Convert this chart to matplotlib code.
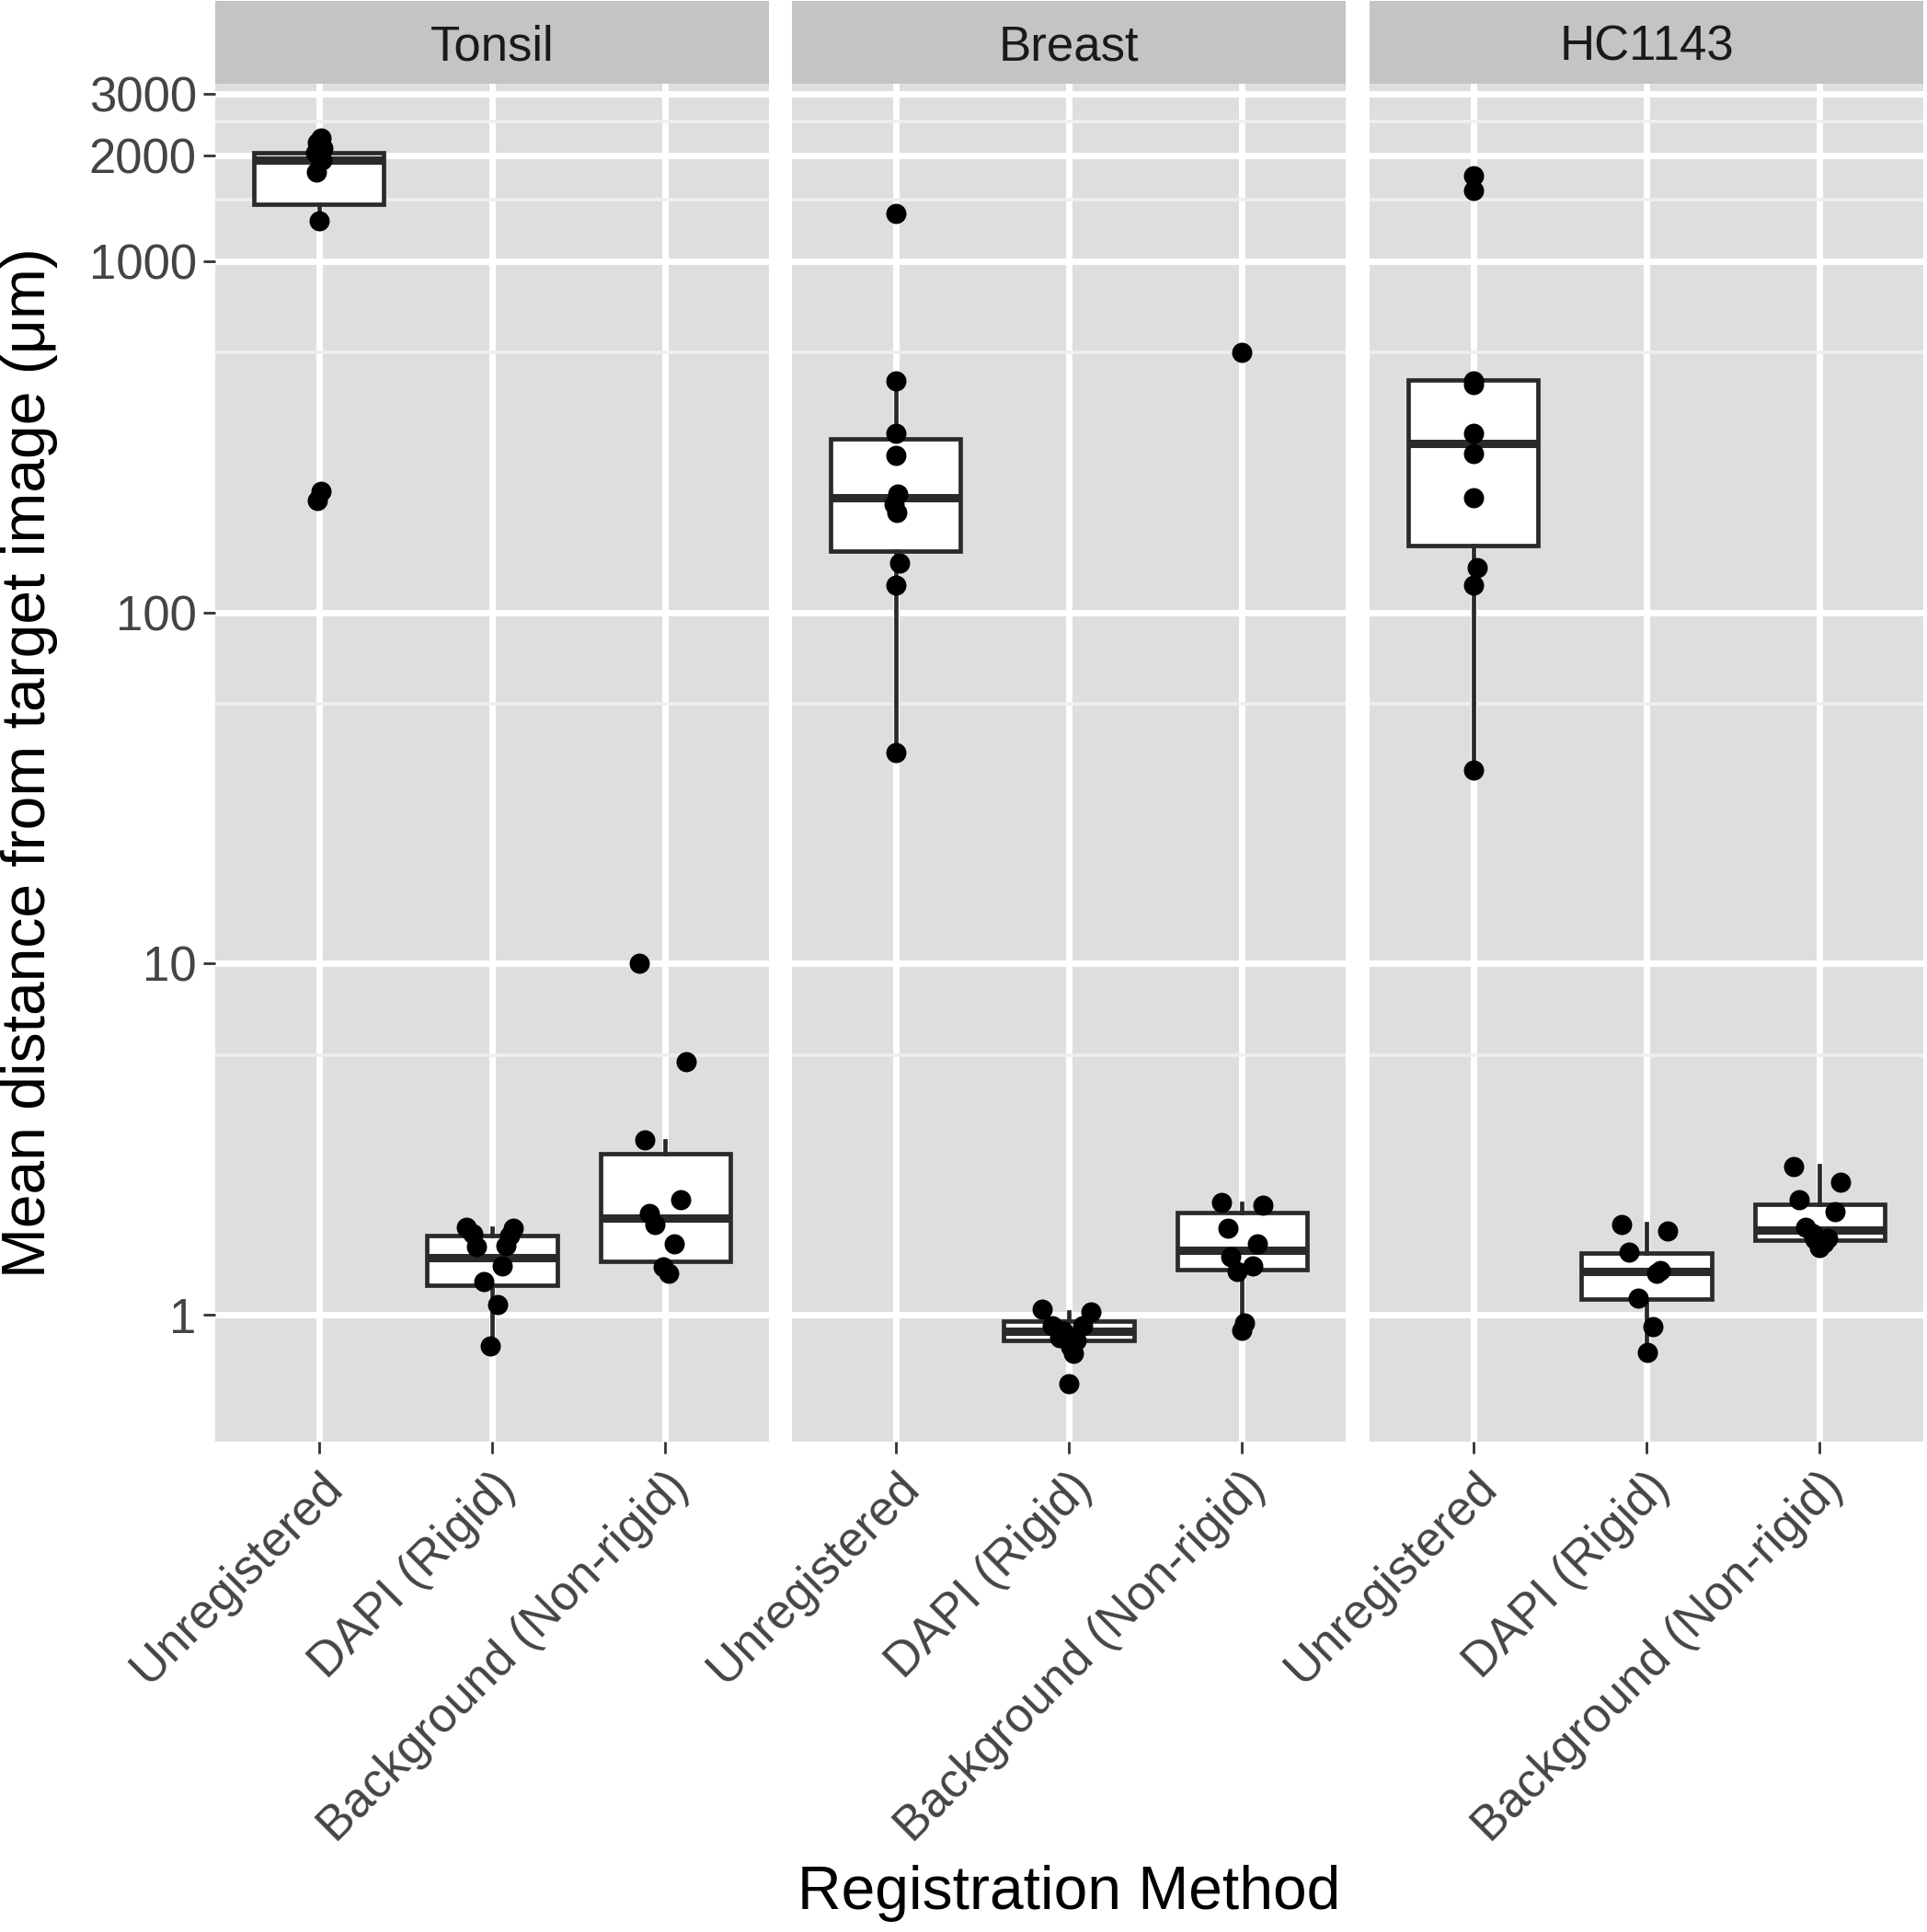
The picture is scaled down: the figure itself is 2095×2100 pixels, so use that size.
import matplotlib
matplotlib.use("Agg")
import matplotlib.pyplot as plt
from matplotlib.ticker import FixedLocator, NullFormatter, FixedFormatter, NullLocator

plt.rcParams['font.family'] = ['Liberation Sans', 'DejaVu Sans']

# ---------------- data ----------------
tissues = ["Tonsil", "Breast", "HC1143"]
methods = ["Unregistered", "DAPI (Rigid)", "Background (Non-rigid)"]
y_breaks = [1, 10, 100, 1000, 2000, 3000]
y_labels = ["1", "10", "100", "1000", "2000", "3000"]
y_minor = [5.5, 55, 550, 1500, 2500]

# points (values in um) and horizontal jitter offsets (category units)
tonsil_unreg = [2250, 2180, 2100, 2040, 1990, 1940, 1800, 1307, 222, 209]
tonsil_unreg_jit = [0.01, -0.01, 0.02, -0.02, 0.0, 0.015, -0.015, 0.0, 0.01, -0.01]
tonsil_dapi = [1.775, 1.76, 1.70, 1.68, 1.56, 1.57, 1.38, 1.24, 1.07, 0.817]
tonsil_dapi_jit = [-0.15, 0.12, -0.11, 0.10, -0.09, 0.08, 0.06, -0.05, 0.03, -0.01]
tonsil_bg = [10.0, 5.27, 3.15, 2.13, 1.945, 1.81, 1.59, 1.366, 1.31]
tonsil_bg_jit = [-0.15, 0.12, -0.12, 0.09, -0.09, -0.06, 0.05, -0.01, 0.02]

breast_unreg = [1368, 456, 325, 281, 217, 203, 193, 138, 120, 40]
breast_unreg_jit = [0.0, 0.0, 0.0, 0.0, 0.01, -0.01, 0.005, 0.02, 0.0, 0.0]
breast_dapi = [1.04, 1.02, 0.932, 0.932, 0.90, 0.86, 0.843, 0.81, 0.778, 0.636]
breast_dapi_jit = [-0.155, 0.13, -0.095, 0.08, -0.03, -0.055, 0.045, 0.01, 0.025, 0.0]
breast_bg = [551, 2.09, 2.05, 1.76, 1.59, 1.466, 1.38, 1.325, 0.95, 0.904]
breast_bg_jit = [0.0, -0.12, 0.12, -0.08, 0.09, -0.065, 0.065, -0.025, 0.015, 0.0]

hc_unreg = [1755, 1596, 457, 447, 325, 284, 213, 134, 120, 35.7]
hc_unreg_jit = [0.0, 0.0, 0.0, 0.0, 0.0, 0.0, 0.0, 0.02, 0.0, 0.0]
hc_dapi = [1.81, 1.73, 1.51, 1.34, 1.31, 1.117, 0.923, 0.78]
hc_dapi_jit = [-0.145, 0.12, -0.10, 0.08, 0.06, -0.05, 0.035, 0.005]
hc_bg = [2.65, 2.39, 2.13, 1.963, 1.776, 1.70, 1.655, 1.637, 1.60, 1.557]
hc_bg_jit = [-0.15, 0.12, -0.115, 0.09, -0.08, -0.04, 0.045, -0.025, 0.025, 0.0]

# box statistics: (whisker low, Q1, median, Q3, whisker high)
tonsil_boxes = [(1307, 1459, 1948, 2045, 2250), (0.817, 1.21, 1.451, 1.678, 1.76), (1.31, 1.42, 1.887, 2.88, 3.12)]
breast_boxes = [(40, 150, 213, 312, 456), (0.778, 0.843, 0.899, 0.96, 1.02), (0.904, 1.345, 1.526, 1.956, 2.07)]
hc_boxes = [(35.7, 155, 304, 460, 460), (0.78, 1.106, 1.326, 1.496, 1.82), (1.557, 1.63, 1.74, 2.065, 2.66)]

points = {
    "Tonsil": [(tonsil_unreg, tonsil_unreg_jit), (tonsil_dapi, tonsil_dapi_jit), (tonsil_bg, tonsil_bg_jit)],
    "Breast": [(breast_unreg, breast_unreg_jit), (breast_dapi, breast_dapi_jit), (breast_bg, breast_bg_jit)],
    "HC1143": [(hc_unreg, hc_unreg_jit), (hc_dapi, hc_dapi_jit), (hc_bg, hc_bg_jit)],
}
boxes = {"Tonsil": tonsil_boxes, "Breast": breast_boxes, "HC1143": hc_boxes}

# ---------------- layout ----------------
W, H = 2095, 2100
fig = plt.figure(figsize=(W / 100, H / 100), dpi=100)
fig.patch.set_facecolor("white")

panel_left = [234, 861, 1489]
panel_w = 602
panel_top = 91
panel_bottom = 1567
strip_top = 1

panel_bg = "#DEDEDE"
strip_bg = "#C4C4C4"
tick_col = "#444444"

for i, tissue in enumerate(tissues):
    l = panel_left[i] / W
    b = 1 - panel_bottom / H
    w = panel_w / W
    h = (panel_bottom - panel_top) / H
    ax = fig.add_axes([l, b, w, h])
    ax.set_facecolor(panel_bg)
    ax.set_yscale("log")
    ax.set_ylim(0.435, 3209)
    ax.set_xlim(-0.6, 2.6)
    for s in ax.spines.values():
        s.set_visible(False)
    ax.set_axisbelow(True)

    # y grid / ticks
    ax.yaxis.set_major_locator(FixedLocator(y_breaks))
    ax.yaxis.set_major_formatter(FixedFormatter(y_labels))
    ax.yaxis.set_minor_locator(FixedLocator(y_minor))
    ax.yaxis.set_minor_formatter(NullFormatter())
    ax.grid(which="major", axis="both", color="white", lw=5.0)
    ax.grid(which="minor", axis="y", color="#EFEFEF", lw=2.6)
    ax.tick_params(axis="y", which="minor", length=0)
    ax.xaxis.set_minor_locator(NullLocator())

    ax.set_xticks(range(len(methods)))
    ax.set_xticklabels(methods, rotation=45, ha="right", va="top",
                       rotation_mode="anchor", fontsize=38, color=tick_col)
    ax.tick_params(axis="x", which="major", length=9.5, width=2.0, color="#333333", pad=8)
    if i == 0:
        ax.tick_params(axis="y", which="major", length=9.5, width=2.0, color="#333333",
                       labelsize=38, labelcolor=tick_col, pad=5)
    else:
        ax.tick_params(axis="y", which="major", length=0, labelleft=False)

    # boxes
    stats = []
    for (lo, q1, med, q3, hi), m in zip(boxes[tissue], methods):
        stats.append(dict(whislo=lo, q1=q1, med=med, q3=q3, whishi=hi, fliers=[], label=m))
    ax.bxp(stats, positions=range(len(methods)), widths=0.75, showfliers=False,
           showcaps=False, patch_artist=True,
           boxprops=dict(facecolor="white", edgecolor="#2A2A2A", lw=3.4),
           whiskerprops=dict(color="#2A2A2A", lw=3.4),
           medianprops=dict(color="#2A2A2A", lw=6.5, solid_capstyle="butt"),
           manage_ticks=False, zorder=2)

    # jittered points
    for k, (vals, jit) in enumerate(points[tissue]):
        xs = [k + j for j in jit]
        ax.scatter(xs, vals, s=250, color="black", linewidths=0, zorder=3)

    # strip
    sax = fig.add_axes([l, 1 - panel_top / H, w, (panel_top - strip_top) / H])
    sax.set_facecolor(strip_bg)
    sax.set_xticks([])
    sax.set_yticks([])
    for s in sax.spines.values():
        s.set_visible(False)
    sax.text(0.5, 0.44, tissue, ha="center", va="center", fontsize=38,
             color="#1A1A1A", transform=sax.transAxes)

# axis titles
fig.text(32 / W, 1 - 829 / H, "Mean distance from target image (\u03bcm)",
         rotation=90, ha="center", va="center", fontsize=47.5, color="black")
fig.text(1162 / W, 1 - 2058 / H, "Registration Method",
         ha="center", va="center", fontsize=47.5, color="black")

fig.savefig("out.png", dpi=100, facecolor="white")
